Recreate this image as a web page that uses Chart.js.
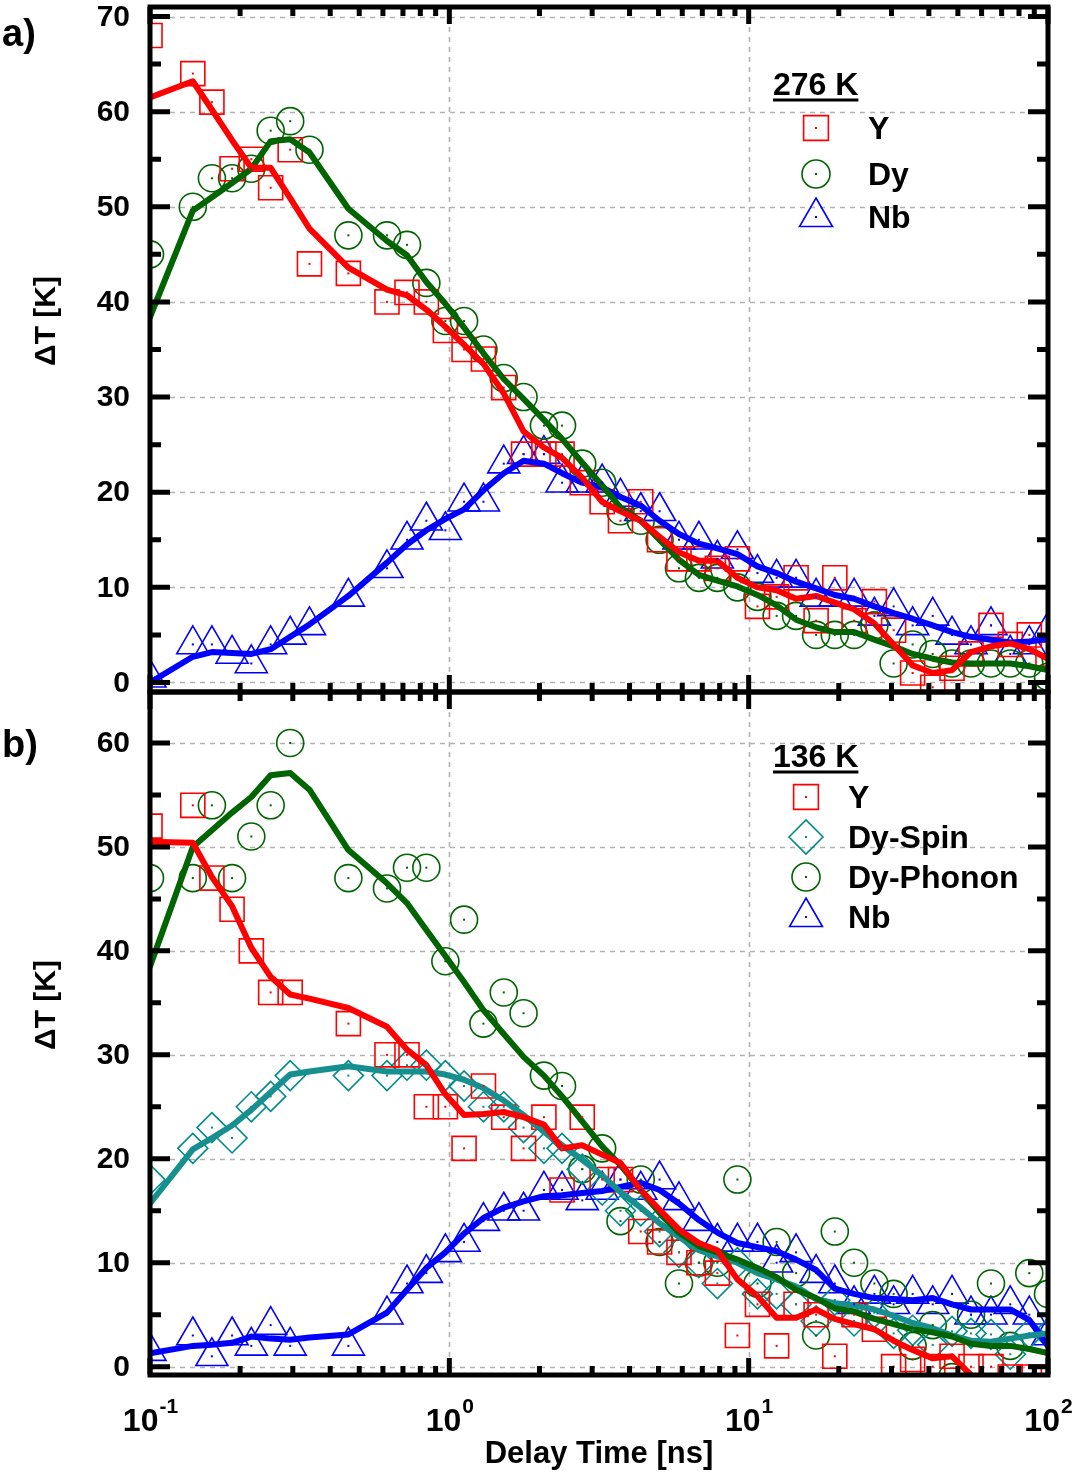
<!DOCTYPE html>
<html>
<head>
<meta charset="utf-8">
<script src="https://cdn.jsdelivr.net/npm/chart.js@4.4.1/dist/chart.umd.min.js"></script>
<style>
  html, body { margin: 0; background: #fff; }
  #wrap { position: relative; width: 1074px; height: 1475px; }
  #wrap canvas { position: absolute; left: 0; top: 0; }
</style>
</head>
<body>
<div id="wrap">
  <canvas id="chart276" width="1074" height="1475"></canvas>
  <canvas id="chart136" width="1074" height="1475"></canvas>
</div>
<script>
/* delay times shared by all series [ns] */
const delayNs = [0.1, 0.139, 0.161, 0.188, 0.218, 0.253, 0.294, 0.341, 0.46, 0.619, 0.722, 0.838, 0.97, 1.12, 1.30, 1.52, 1.77, 2.07, 2.38, 2.78, 3.24, 3.73, 4.36, 5.04, 5.85, 6.82, 7.86, 9.17, 10.7, 12.4, 14.4, 16.8, 19.4, 22.5, 26.3, 30.5, 35.3, 41.2, 47.8, 55.3, 64.5, 74.8, 86.6, 100];

/* ---------- a) 276 K ---------- */
const y276  = [68,64,61,54,55, 52,56,44,43,40, 41,40,37,35,34, 31,24,24,24,21, 19,17,19,15,13, 13,12,13,8,9, 11,6.5,11,6.5,8.5, 5.5,1,-0.5,1.5,3, 6,4,5,3];
const dy276 = [45,50,53,53,54, 58,59,56,47,47, 46,42,38,38,35, 32,30,27,27,23, 21,18,17,15,12, 11,11,10,9,7, 7,5,5,5,6, 2,4,3,2,2, 2,2,2,0.6];
const nb276 = [0.5,4,4,3,2, 4,5,6,9,12, 15,17,16,19,19, 23,24,24,21,21, 21,19.5,18,18,15, 15,13,14,11.5,11, 11,9,9,9,7, 8,6,7,5,4, 6,3,4,5.5];
const y276Fit  = [61.5,63.2,60.2,57.0,54.1, 54.1,50.9,47.7,43.6,41.3, 40.7,39.2,37.4,35.5,33.5, 30.4,26.4,24.7,23.6,21.5, 19.0,18.0,17.0,15.3,13.7, 12.8,12.8,11.0,10.0,9.7, 8.8,9.1,8.4,7.7,6.2, 4.0,1.8,1.0,1.3,3.2, 3.8,4.1,3.5,2.5];
const dy276Fit = [38.4,49.6,51.0,52.5,54.0, 56.9,57.1,55.7,49.8,46.4, 44.9,42.1,39.8,37.3,34.6, 31.9,29.8,27.6,25.6,23.1, 20.7,18.4,17.0,15.0,12.9, 11.3,10.7,10.1,9.2,8.1, 6.6,5.8,5.3,5.3,4.5, 3.8,3.0,2.5,2.1,2.0, 2.0,2.0,1.7,1.3];
const nb276Fit = [0,2.7,3.2,3.1,3.0, 3.5,4.8,6.1,9.1,12.6, 14.5,16.0,17.2,18.2,20.2, 22.0,23.3,23.0,22.0,21.0, 20.5,19.5,18.6,17.0,15.6, 14.6,14.1,13.5,12.2,11.5, 10.6,9.9,9.2,8.8,8.0, 7.3,6.7,6.0,5.3,4.8, 4.5,4.2,4.3,4.6];

/* ---------- b) 136 K ---------- */
const y136        = [52,54,47,44,40, 36,36,null,33,30, 30,25,25,21,27, 24,21,24,17,24, 18,18,13,12,11, 10,9,3,6,2, 6,5,1,5,3.6, 0,0.7,0,1,0, 0,-1,-1,-1];
const dySpin136   = [18,21,23,22,25, 26,28,null,28,28, 29,29,28,27,25, 25,23,21,21,19, 17,15,15,13,11, 10,8,10,7,7, 6,4.4,6.4,4.4,5.2, 3.2,3.5,2.1,3.4,3.2, 3.1,1.2,3.2,3.2];
const dyPhonon136 = [47,47,54,47,51, 54,60,null,47,46, 48,48,39,43,33, 36,34,28,27,19, 21,14,18,12,8, 10,10,18,8,12, 9,3,13,10,8, 7,2,4,-1,5, 8,2,9,7];
const nb136       = [1.5,3,1,3,2, 4,2,null,2,5, 8,9,11,12,14, 15,15,17,17,16, 17,18,17,18,16, 14,12,12,12,10, 11,9,8,6,7, 6,7,6,7,5, 5,6,5,3];
const y136Fit        = [50.5,50.4,47.1,44.3,40.3, 37.5,35.8,35.4,34.5,32.7, 30.5,29.0,26.2,24.2,24.3, 24.5,24.0,23.3,21.0,21.3, 20.4,19.6,17.0,15.1,13.2, 11.9,11.2,8.4,6.8,4.7, 4.7,5.5,4.6,4.1,3.6, 2.5,1.6,0.8,1.0,-0.8, -2.5,-2.5,-2.5,-2.5];
const dySpin136Fit   = [15.7,20.9,22.0,23.2,24.7, 26.4,28.1,28.4,28.9,28.4, 28.4,28.4,28.1,27.6,26.8, 25.6,24.2,22.6,21.3,19.9, 18.4,16.8,15.3,13.8,12.5, 11.2,10.6,10.0,9.0,8.4, 7.7,6.5,6.1,5.9,5.5, 4.9,4.2,3.7,3.0,2.5, 2.4,2.7,3.0,3.2];
const dyPhonon136Fit = [38.5,50,51.6,53.3,54.8, 56.9,57.1,55.5,49.7,46.5, 44.6,42,39.5,37,34.3, 32,29.8,28,26,23.6, 21.2,19.4,17,14.8,12.9, 11.6,11,10.3,9.5,8.6, 7.4,6.6,5.6,5.3,4.6, 4.1,3.6,3.3,2.9,2.2, 2.0,2.0,1.7,1.3];
const nb136Fit       = [1.3,2.0,2.1,2.3,2.9, 2.7,2.6,2.8,3.1,5.2, 7.4,9.5,11.0,12.8,14.3, 15.3,15.9,16.4,16.5,16.7, 16.9,17.3,17.7,17.0,15.7, 14.1,12.9,11.9,11.5,11.1, 10.3,9.3,7.5,7.0,6.6, 6.5,6.4,6.6,6.0,5.5, 5.5,5.5,4.5,2.0];

/* ---------- ticks ---------- */
const xDecades = [0.1, 1, 10, 100];
const xDecadeExp = ["-1", "0", "1", "2"];
const yTicks276 = [0, 10, 20, 30, 40, 50, 60, 70];
const yTicks136 = [0, 10, 20, 30, 40, 50, 60];

const RED = "#ff0000", GREEN = "#006400", BLUE = "#0000ff", TEAL = "#008b8b", TEAL_LINE = "#178f8f";
const FONT = '"Liberation Sans", Arial, sans-serif';

const pts = ys => delayNs.map((d, i) => ({ x: d, y: ys[i] })).filter(p => p.y !== null);

const MARK_R = { rect: 17, circle: 13.5, triangle: 18.5, rectRot: 15 };

const markers = (label, ys, style, color) => ({
  label, data: pts(ys), showLine: false, isMarker: true,
  pointStyle: style, pointRadius: MARK_R[style], pointHoverRadius: MARK_R[style],
  pointBorderColor: color, pointBackgroundColor: "rgba(0,0,0,0)", pointBorderWidth: 1.6,
  borderColor: color, order: 1, clip: 0,
});
const fitLine = (ys, color) => ({
  data: pts(ys), showLine: true, pointRadius: 0, borderColor: color, borderWidth: 6,
  tension: 0, borderCapStyle: "round", borderJoinStyle: "round", order: 0, clip: 0,
});

function drawMarker(ctx, style, x, y, r) {
  ctx.beginPath();
  if (style === "rect") { const s = r * Math.SQRT1_2; ctx.rect(x - s, y - s, 2 * s, 2 * s); }
  else if (style === "circle") ctx.arc(x, y, r, 0, Math.PI * 2);
  else if (style === "rectRot") { ctx.moveTo(x - r, y); ctx.lineTo(x, y - r); ctx.lineTo(x + r, y); ctx.lineTo(x, y + r); ctx.closePath(); }
  else if (style === "triangle") { const w = r * Math.sin(Math.PI / 3); ctx.moveTo(x, y - r); ctx.lineTo(x + w, y + r / 2); ctx.lineTo(x - w, y + r / 2); ctx.closePath(); }
  ctx.stroke();
  ctx.fillRect(x - 1, y - 1, 2, 2);
}

/* grid, frame, inward ticks, labels and legend for one panel */
function panelPlugin(cfg) {
  return {
    id: "panel",
    beforeDatasetsDraw(chart) {
      const { ctx, chartArea: a, scales: { x, y } } = chart;
      ctx.save();
      ctx.strokeStyle = "#b2b2b2"; ctx.lineWidth = 1.6; ctx.setLineDash([5, 5]);
      ctx.beginPath();
      cfg.yTicks.forEach(v => { const py = Math.round(y.getPixelForValue(v)) + 0.5; ctx.moveTo(a.left, py); ctx.lineTo(a.right, py); });
      xDecades.slice(1, -1).forEach(v => { const px = Math.round(x.getPixelForValue(v)) + 0.5; ctx.moveTo(px, a.top); ctx.lineTo(px, a.bottom); });
      ctx.stroke();
      ctx.restore();
    },
    afterDatasetsDraw(chart) {
      const { ctx, chartArea: a, scales: { x, y } } = chart;
      ctx.save();
      // centre dots of the open markers
      ctx.beginPath(); ctx.rect(a.left, a.top, a.width, a.height); ctx.clip();
      chart.data.datasets.forEach((ds, i) => {
        if (!ds.isMarker) return;
        ctx.fillStyle = ds.pointBorderColor;
        chart.getDatasetMeta(i).data.forEach(el => ctx.fillRect(el.x - 1, el.y - 1, 2, 2));
      });
      ctx.restore();

      ctx.save();
      ctx.strokeStyle = "#000"; ctx.lineCap = "butt";
      ctx.lineWidth = 5;
      ctx.beginPath();
      const yMax = y.max;
      for (let v = 0; v <= yMax; v += 5) {
        const py = y.getPixelForValue(v), len = v % 10 === 0 ? 20 : 11;
        ctx.moveTo(a.left, py); ctx.lineTo(a.left + len, py);
        ctx.moveTo(a.right, py); ctx.lineTo(a.right - len, py);
      }
      xDecades.forEach(d => {
        for (let m = 1; m <= 9; m++) {
          const v = d * m;
          if (v > 100) break;
          const px = x.getPixelForValue(v), len = m === 1 ? 17 : 9;
          ctx.moveTo(px, a.bottom); ctx.lineTo(px, a.bottom - len);
          ctx.moveTo(px, a.top); ctx.lineTo(px, a.top + len);
        }
      });
      ctx.stroke();
      ctx.strokeRect(a.left, a.top, a.width, a.height);
      ctx.restore();
    },
    afterDraw(chart) {
      const { ctx, chartArea: a, scales: { x, y } } = chart;
      ctx.save();
      ctx.fillStyle = "#000";
      // y tick labels
      ctx.font = `bold 30px ${FONT}`; ctx.textAlign = "right"; ctx.textBaseline = "middle";
      cfg.yTicks.forEach(v => ctx.fillText(String(v), 130, y.getPixelForValue(v) + 1));
      // panel letter
      ctx.font = `bold 38px ${FONT}`; ctx.textAlign = "left"; ctx.textBaseline = "alphabetic";
      ctx.fillText(cfg.letter, 2, cfg.letterY);
      // y title
      ctx.save();
      ctx.translate(47, cfg.titleY); ctx.rotate(-Math.PI / 2);
      ctx.font = `bold 30px ${FONT}`; ctx.textAlign = "center"; ctx.textBaseline = "middle";
      ctx.fillText("\u0394T [K]", 0, 0);
      ctx.restore();
      // x tick labels + title (bottom panel only)
      if (cfg.xLabels) {
        xDecades.forEach((d, i) => {
          const px = x.getPixelForValue(d);
          ctx.font = `bold 32px ${FONT}`;
          const w10 = ctx.measureText("10").width;
          ctx.font = `bold 21px ${FONT}`;
          const wExp = ctx.measureText(xDecadeExp[i]).width;
          const start = px - (w10 + wExp) / 2;
          ctx.textAlign = "left";
          ctx.font = `bold 32px ${FONT}`; ctx.fillText("10", start, 1431);
          ctx.font = `bold 21px ${FONT}`; ctx.fillText(xDecadeExp[i], start + w10 + 1, 1413);
        });
        ctx.font = `bold 31px ${FONT}`; ctx.textAlign = "center";
        ctx.fillText("Delay Time [ns]", (a.left + a.right) / 2, 1463);
      }
      // legend
      const L = cfg.legend;
      ctx.font = `bold 32px ${FONT}`; ctx.textAlign = "left"; ctx.textBaseline = "alphabetic";
      ctx.fillText(L.title, 773, L.titleBase);
      const tw = ctx.measureText(L.title).width;
      ctx.fillRect(773, L.underline - 1.5, tw, 3);
      ctx.textBaseline = "middle";
      L.items.forEach(it => {
        ctx.strokeStyle = it.color; ctx.fillStyle = it.color; ctx.lineWidth = 1.6;
        drawMarker(ctx, it.style, L.markerX, it.y, it.r);
        ctx.fillStyle = "#000";
        ctx.fillText(it.text, L.textX, it.y + 2);
      });
      ctx.restore();
    },
  };
}

const baseOptions = (ymin, ymax, padding) => ({
  responsive: false, animation: false, devicePixelRatio: 1, events: [],
  layout: { padding, autoPadding: false },
  plugins: { legend: { display: false }, tooltip: { enabled: false } },
  scales: {
    x: { type: "logarithmic", min: 0.1, max: 100, display: false },
    y: { type: "linear", min: ymin, max: ymax, display: false },
  },
});

new Chart(document.getElementById("chart276"), {
  type: "scatter",
  data: {
    datasets: [
      fitLine(y276Fit, RED), fitLine(dy276Fit, GREEN), fitLine(nb276Fit, BLUE),
      markers("Y", y276, "rect", RED),
      markers("Dy", dy276, "circle", GREEN),
      markers("Nb", nb276, "triangle", BLUE),
    ],
  },
  options: baseOptions(-1, 71, { left: 150, right: 26, top: 7, bottom: 1475 - 692 }),
  plugins: [panelPlugin({
    yTicks: yTicks276, letter: "a)", letterY: 46, titleY: 321, xLabels: false,
    legend: {
      title: "276 K", titleBase: 95, underline: 100, markerX: 816, textX: 868,
      items: [
        { style: "rect", color: RED, y: 128, r: 17.5, text: "Y" },
        { style: "circle", color: GREEN, y: 174, r: 14, text: "Dy" },
        { style: "triangle", color: BLUE, y: 217, r: 19, text: "Nb" },
      ],
    },
  })],
});

new Chart(document.getElementById("chart136"), {
  type: "scatter",
  data: {
    datasets: [
      fitLine(y136Fit, RED), fitLine(dyPhonon136Fit, GREEN), fitLine(dySpin136Fit, TEAL_LINE), fitLine(nb136Fit, BLUE),
      markers("Y", y136, "rect", RED),
      markers("Dy-Spin", dySpin136, "rectRot", TEAL),
      markers("Dy-Phonon", dyPhonon136, "circle", GREEN),
      markers("Nb", nb136, "triangle", BLUE),
    ],
  },
  options: baseOptions(-0.8, 64.9, { left: 150, right: 26, top: 692, bottom: 1475 - 1375 }),
  plugins: [panelPlugin({
    yTicks: yTicks136, letter: "b)", letterY: 757, titleY: 1005, xLabels: true,
    legend: {
      title: "136 K", titleBase: 767, underline: 772, markerX: 806, textX: 848,
      items: [
        { style: "rect", color: RED, y: 797, r: 17.5, text: "Y" },
        { style: "rectRot", color: TEAL, y: 837, r: 17, text: "Dy-Spin" },
        { style: "circle", color: GREEN, y: 877, r: 14, text: "Dy-Phonon" },
        { style: "triangle", color: BLUE, y: 917, r: 19, text: "Nb" },
      ],
    },
  })],
});
</script>
</body>
</html>
